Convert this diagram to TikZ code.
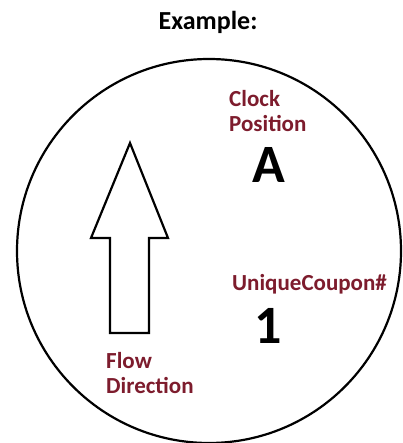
\documentclass[tikz,border=0pt]{standalone}
\usepackage{fontspec}
\setmainfont{Carlito}
\definecolor{labelred}{RGB}{125,28,45}
\begin{document}
\begin{tikzpicture}[x=1pt,y=-1pt,
  redlabel/.style={font=\bfseries\fontsize{23}{25}\selectfont, text=labelred, inner sep=0pt, align=left, anchor=base west},
  biglabel/.style={font=\bfseries\fontsize{54}{60}\selectfont, text=black, inner sep=0pt, anchor=base},
  outline/.style={draw=black, line width=2.2pt, line join=miter}]
\useasboundingbox (0,0) rectangle (402,443);
\node[font=\bfseries\fontsize{26}{30}\selectfont, inner sep=0pt, anchor=base] (title) at (208,30) {Example:};
\draw[outline] (209,251) circle (192);
\draw[outline] (130,143) -- (168,238) -- (149,238) -- (149,333) -- (110,333) -- (110,238) -- (91,238) -- cycle;
\node[redlabel] (clock) at (229,132) {Clock\\Position};
\node[biglabel] (A) at (269,183) {A};
\node[redlabel] (coupon) at (232,290) {UniqueCoupon\#};
\node[biglabel] (one) at (268,343) {1};
\node[redlabel] (flow) at (106,393) {Flow\\Direction};
\end{tikzpicture}
\end{document}
